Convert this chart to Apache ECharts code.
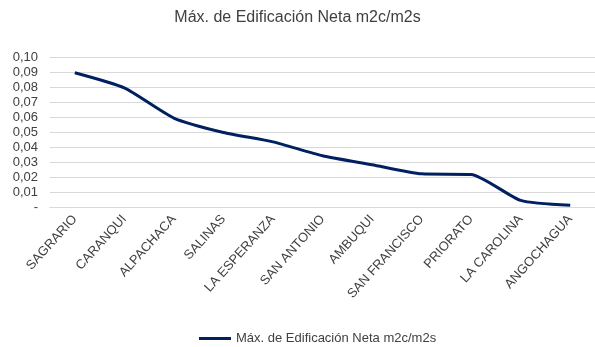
<!DOCTYPE html>
<html><head><meta charset="utf-8">
<script src="https://cdn.jsdelivr.net/npm/echarts@6/dist/echarts.min.js"></script>
<style>html,body{margin:0;padding:0;background:#fff}#c{width:595px;height:347px}</style>
</head><body><div id="c"></div>
<script>
const categories = ['SAGRARIO','CARANQUI','ALPACHACA','SALINAS','LA ESPERANZA','SAN ANTONIO','AMBUQUI','SAN FRANCISCO','PRIORATO','LA CAROLINA','ANGOCHAGUA'];
const values = [0.0895, 0.0794, 0.0593, 0.0497, 0.0434, 0.0342, 0.0282, 0.0221, 0.0217, 0.0044, 0.0011];
const seriesName = 'Máx. de Edificación Neta m2c/m2s';
const titleText = 'Máx. de Edificación Neta m2c/m2s';
const font = '"Liberation Sans", Arial, sans-serif';
const chart = echarts.init(document.getElementById('c'));
chart.setOption({
  animation: false,
  title: { text: titleText, left: 'center', top: 5, textStyle: { fontFamily: font, fontSize: 16, fontWeight: 'normal', color: '#404040' } },
  legend: { bottom: -3, left: 194, itemWidth: 32, itemHeight: 3, icon: 'rect', textStyle: { fontFamily: font, fontSize: 13, color: '#404040' }, data: [seriesName] },
  grid: { left: 50, right: -5, top: 57, bottom: 140 },
  xAxis: { type: 'category', data: categories, boundaryGap: true,
    axisLine: { lineStyle: { color: '#d9d9d9' } }, axisTick: { show: false },
    axisLabel: { rotate: 48, interval: 0, margin: 10, fontFamily: font, fontSize: 13, color: '#404040' } },
  yAxis: { type: 'value', min: 0, max: 0.1, interval: 0.01,
    axisLine: { show: false }, axisTick: { show: false },
    splitLine: { lineStyle: { color: '#d9d9d9', width: 1 } },
    axisLabel: { margin: 12, fontFamily: font, fontSize: 13, color: '#404040',
      formatter: v => v === 0 ? '-' : v.toFixed(2).replace('.', ',') } },
  series: [{ name: seriesName, type: 'line', data: values, smooth: 0.2, symbol: 'none',
    lineStyle: { color: '#002060', width: 3 }, itemStyle: { color: '#002060' } }]
});
</script></body></html>
